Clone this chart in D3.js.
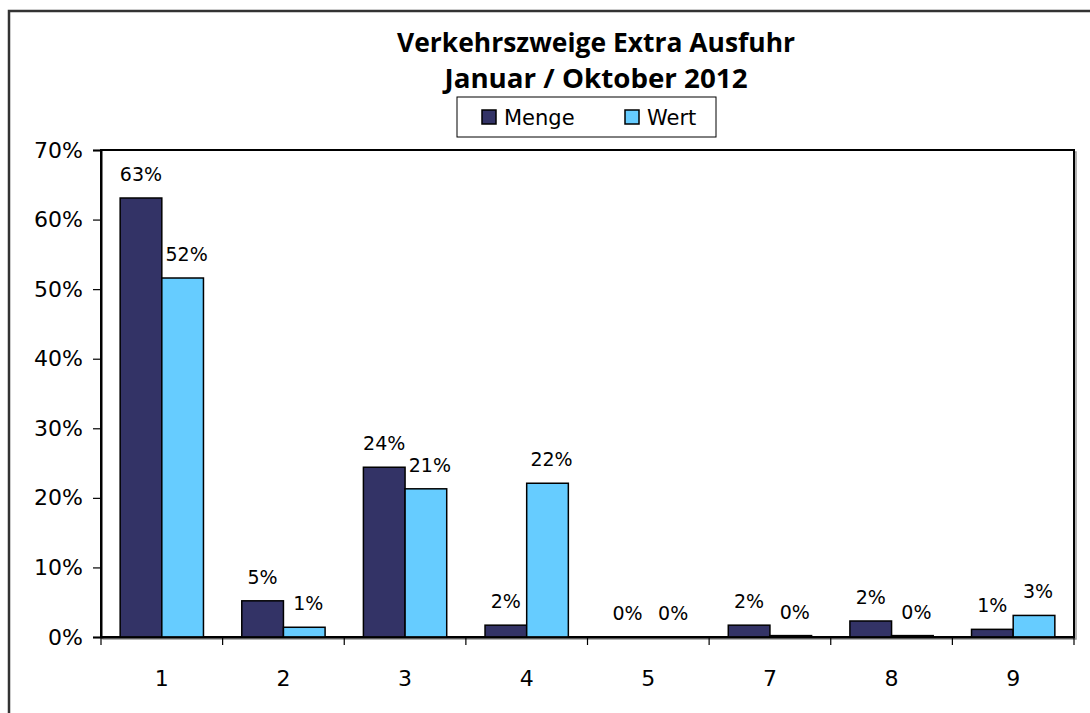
<!DOCTYPE html>
<html>
<head>
<meta charset="utf-8">
<script src="https://cdn.jsdelivr.net/npm/d3@7"></script>
<style>
  html, body { margin: 0; padding: 0; background: #fff; }
  svg { display: block; }
  text { font-family: "DejaVu Sans", sans-serif; fill: #000; }
</style>
</head>
<body>
<svg id="chart" width="1090" height="713"></svg>
<script>
// ---- data ----
const categories = ["1", "2", "3", "4", "5", "7", "8", "9"];
const seriesNames = ["Menge", "Wert"];
const menge = [63.1, 5.2, 24.4, 1.7, 0, 1.7, 2.3, 1.1];
const wert  = [51.6, 1.4, 21.3, 22.1, 0, 0.2, 0.2, 3.1];
const yTicks = [0, 10, 20, 30, 40, 50, 60, 70];
const titleLines = ["Verkehrszweige Extra Ausfuhr", "Januar / Oktober 2012"];
const colors = { Menge: "#333366", Wert: "#66CCFF" };

const seriesValues = { Menge: menge, Wert: wert };

const svg = d3.select("#chart");

// outer frame (cropped at right and bottom)
svg.append("path")
  .attr("d", "M9,713 L9,11 L1090,11")
  .attr("fill", "none").attr("stroke", "#333").attr("stroke-width", 2.5);

const plot = { left: 101, right: 1074, top: 150, bottom: 637 };

const x0 = d3.scaleBand().domain(categories).range([plot.left, plot.right]).paddingInner(0).paddingOuter(0);
const x1 = d3.scaleBand().domain(seriesNames).range([0, x0.bandwidth()]).paddingInner(0).paddingOuter(0.46);
const y = d3.scaleLinear().domain([0, 70]).range([plot.bottom, plot.top]);

// plot area border (shadow + frame)
svg.append("rect")
  .attr("x", plot.left + 2).attr("y", plot.top + 2)
  .attr("width", plot.right - plot.left).attr("height", plot.bottom - plot.top)
  .attr("fill", "none").attr("stroke", "#999").attr("stroke-width", 1.5);
svg.append("rect")
  .attr("x", plot.left).attr("y", plot.top)
  .attr("width", plot.right - plot.left).attr("height", plot.bottom - plot.top)
  .attr("fill", "#fff").attr("stroke", "#000").attr("stroke-width", 2);

// y axis
const yAxis = d3.axisLeft(y).tickValues(yTicks).tickFormat(d => d + "%").tickSize(8).tickPadding(10);
const gy = svg.append("g").attr("transform", `translate(${plot.left},0)`).call(yAxis);
gy.select(".domain").attr("stroke", "#000").attr("stroke-width", 2);
gy.selectAll(".tick line").attr("stroke", "#000").attr("stroke-width", 1.2);
gy.selectAll(".tick text").style("font-size", "22px").style("font-family", "DejaVu Sans, sans-serif").attr("fill", "#000");

// bars
const groups = svg.append("g").selectAll("g")
  .data(categories)
  .join("g")
  .attr("transform", d => `translate(${x0(d)},0)`);

groups.selectAll("rect")
  .data((c, i) => seriesNames.map(s => ({ s, v: seriesValues[s][i] })))
  .join("rect")
  .attr("x", d => x1(d.s))
  .attr("y", d => y(d.v))
  .attr("width", x1.bandwidth())
  .attr("height", d => y(0) - y(d.v))
  .attr("fill", d => colors[d.s])
  .attr("stroke", "#000")
  .attr("stroke-width", 1.5);

// data labels
const fmt = d3.format(".0%");
groups.selectAll("text.lbl")
  .data((c, i) => seriesNames.map(s => ({ s, v: seriesValues[s][i] })))
  .join("text")
  .attr("class", "lbl")
  .attr("x", d => x1(d.s) + x1.bandwidth() / 2 + (d.s === "Wert" ? 4 : 0))
  .attr("y", d => y(d.v) - 17)
  .attr("text-anchor", "middle")
  .style("font-size", "19px")
  .text(d => fmt(d.v / 100));

// x axis
const xAxis = d3.axisBottom(x0).tickSize(0).tickPadding(0);
const gx = svg.append("g").attr("transform", `translate(0,${plot.bottom})`).call(xAxis);
gx.select(".domain").attr("stroke", "#000").attr("stroke-width", 2);
gx.selectAll(".tick text")
  .attr("y", 49).attr("dy", 0)
  .style("font-size", "22px").style("font-family", "DejaVu Sans, sans-serif").attr("fill", "#000");
// tick marks between categories
const boundaries = categories.map(c => x0(c)).concat([plot.right]);
gx.selectAll("line.bnd")
  .data(boundaries)
  .join("line")
  .attr("class", "bnd")
  .attr("x1", d => d).attr("x2", d => d)
  .attr("y1", 0).attr("y2", 8)
  .attr("stroke", "#000").attr("stroke-width", 1.2);

// title
const titleWidths = [398, 303];
svg.selectAll("text.title")
  .data(titleLines)
  .join("text")
  .attr("class", "title")
  .attr("x", 596)
  .attr("y", (d, i) => 52 + i * 36)
  .attr("text-anchor", "middle")
  .attr("textLength", (d, i) => titleWidths[i])
  .attr("lengthAdjust", "spacingAndGlyphs")
  .style("font-family", "Open Sans, sans-serif")
  .style("font-weight", "bold")
  .style("font-size", "27px")
  .text(d => d);

// legend
const legend = svg.append("g");
legend.append("rect")
  .attr("x", 457).attr("y", 97).attr("width", 259).attr("height", 40)
  .attr("fill", "#fff").attr("stroke", "#000").attr("stroke-width", 1);
const legendItems = [{ s: "Menge", x: 482 }, { s: "Wert", x: 625 }];
legend.selectAll("rect.sw")
  .data(legendItems)
  .join("rect")
  .attr("class", "sw")
  .attr("x", d => d.x).attr("y", 110)
  .attr("width", 14).attr("height", 14)
  .attr("fill", d => colors[d.s])
  .attr("stroke", "#000").attr("stroke-width", 1.5);
legend.selectAll("text")
  .data(legendItems)
  .join("text")
  .attr("x", d => d.x + 22).attr("y", 125)
  .style("font-size", "21px")
  .text(d => d.s);
</script>
</body>
</html>
